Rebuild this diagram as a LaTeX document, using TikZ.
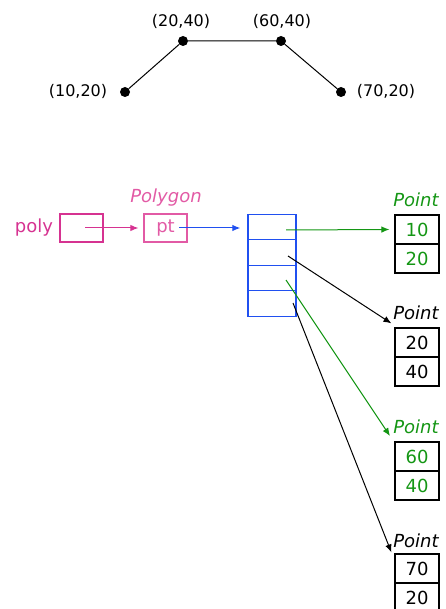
\documentclass[tikz,border=0pt]{standalone}
\usepackage{fontspec}
\usetikzlibrary{arrows.meta}
\setmainfont{DejaVu Sans}
\definecolor{polymag}{RGB}{214,51,145}
\definecolor{ptpink}{RGB}{226,90,165}
\definecolor{arrblue}{RGB}{32,80,240}
\definecolor{ptgreen}{RGB}{20,150,20}

\begin{document}
\begin{tikzpicture}[x=1pt, y=-1pt,
    dot/.style={circle, fill=black, inner sep=0pt, minimum size=10pt},
    coord/.style={font=\fontsize{16}{18}\selectfont, anchor=base},
    lbl/.style={font=\fontsize{18}{20}\selectfont, anchor=base},
    cell/.style={draw, line width=1.4pt, minimum width=48pt, minimum height=25.5pt, inner sep=0pt},
    pcell/.style={draw, line width=1.2pt, minimum width=44pt, minimum height=29pt, inner sep=0pt, font=\fontsize{18}{20}\selectfont},
    ptr/.style={-{Latex[length=8pt,width=6.5pt]}, line width=1pt}]
    \useasboundingbox (0,0) rectangle (445,609);

    % the polygon
    \node[dot] (a) at (125,92) {};
    \node[dot] (b) at (183,41) {};
    \node[dot] (c) at (281,41) {};
    \node[dot] (d) at (341,92) {};
    \draw[line width=1pt] (a) -- (b) -- (c) -- (d);
    \node[coord] (la) at (78,97) {(10,20)};
    \node[coord] (lb) at (181,27) {(20,40)};
    \node[coord] (lc) at (282,27) {(60,40)};
    \node[coord] (ld) at (386,97) {(70,20)};

    % poly and Polygon
    \node[lbl, text=polymag] (polytxt) at (34,233) {poly};
    \node[draw=polymag, line width=1.4pt, minimum width=43pt, minimum height=28pt, inner sep=0pt] (poly) at (81.5,228) {};
    \node[lbl, text=ptpink, font=\fontsize{18}{20}\selectfont\itshape] (polygon) at (166,203) {Polygon};
    \node[draw=ptpink, line width=1.2pt, minimum width=43pt, minimum height=28pt, inner sep=0pt, text=ptpink, font=\fontsize{18}{20}\selectfont] (pt) at (165.5,228) {pt};
    \coordinate (ps) at (85,228);
    \coordinate (ts) at (179,228);
    \draw[ptr, polymag] (ps) -- ([xshift=-5pt]pt.west);

    % array of pointers
    \node[cell, draw=arrblue] (c1) at (272,227) {};
    \node[cell, draw=arrblue] (c2) at (272,252.5) {};
    \node[cell, draw=arrblue] (c3) at (272,278) {};
    \node[cell, draw=arrblue] (c4) at (272,303.5) {};
    \draw[ptr, arrblue] (ts) -- ([xshift=-7pt]c1.west |- ts);

    % the points
    \node[lbl, text=ptgreen, font=\fontsize{18}{20}\selectfont\itshape] (n1) at (416,207) {Point};
    \node[pcell, text=ptgreen] (p1x) at (417,229.5) {10};
    \node[pcell, text=ptgreen] (p1y) at (417,258.5) {20};

    \node[lbl, font=\fontsize{18}{20}\selectfont\itshape] (n2) at (416,319) {Point};
    \node[pcell] (p2x) at (417,342.5) {20};
    \node[pcell] (p2y) at (417,371.5) {40};

    \node[lbl, text=ptgreen, font=\fontsize{18}{20}\selectfont\itshape] (n3) at (416,433) {Point};
    \node[pcell, text=ptgreen] (p3x) at (417,456.5) {60};
    \node[pcell, text=ptgreen] (p3y) at (417,485.5) {40};

    \node[lbl, font=\fontsize{18}{20}\selectfont\itshape] (n4) at (416,547) {Point};
    \node[pcell] (p4x) at (417,568.5) {70};
    \node[pcell] (p4y) at (417,597.5) {20};

    % pointers to the points
    \coordinate (s1) at (286,230);
    \coordinate (s2) at (288,256);
    \coordinate (s3) at (286,280);
    \coordinate (s4) at (293,303);
    \coordinate (e3) at (390,436);
    \draw[ptr, ptgreen] (s1) -- ([xshift=-5pt]p1x.west);
    \draw[ptr] (s2) -- ([xshift=-3pt,yshift=4pt]p2x.north west);
    \draw[ptr, ptgreen] (s3) -- (e3);
    \draw[ptr] (s4) -- ([xshift=-3pt,yshift=1pt]p4x.north west);
\end{tikzpicture}
\end{document}
